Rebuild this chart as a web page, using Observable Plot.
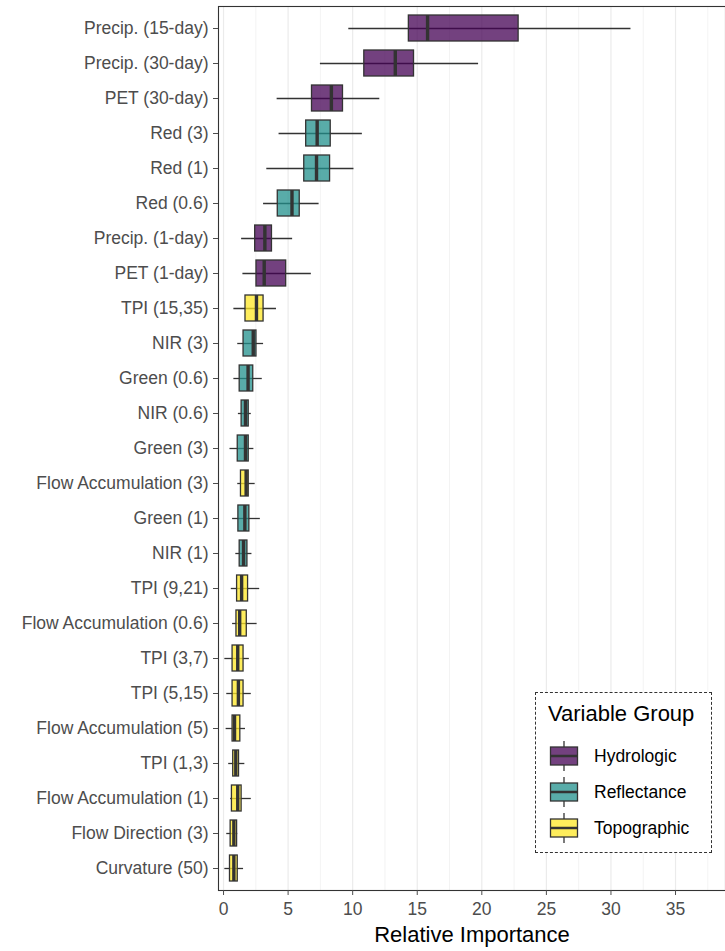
<!DOCTYPE html>
<html>
<head>
<meta charset="utf-8">
<script src="https://cdn.jsdelivr.net/npm/d3@7"></script>
<script src="https://cdn.jsdelivr.net/npm/@observablehq/plot@0.6"></script>
<style>
  html, body { margin: 0; padding: 0; background: #fff; overflow: hidden; }
  #wrap { position: relative; width: 725px; height: 951px; font-family: "Liberation Sans", Arial, sans-serif; }
  #legend { position: absolute; left: 535px; top: 692px; width: 177px; height: 161px; border: 1px dashed #333; background: #fff; box-sizing: border-box; }
  #legend .title { position: absolute; left: 12px; top: 8px; font-size: 22px; color: #000; white-space: nowrap; }
  #legend .item { position: absolute; left: 13px; height: 36px; display: flex; align-items: center; }
  #legend .item span { font-size: 17.5px; color: #000; margin-left: 15px; white-space: nowrap; }
</style>
</head>
<body>
<div id="wrap"></div>
<script>
const names = ["Precip. (15-day)","Precip. (30-day)","PET (30-day)","Red (3)","Red (1)","Red (0.6)","Precip. (1-day)","PET (1-day)","TPI (15,35)","NIR (3)","Green (0.6)","NIR (0.6)","Green (3)","Flow Accumulation (3)","Green (1)","NIR (1)","TPI (9,21)","Flow Accumulation (0.6)","TPI (3,7)","TPI (5,15)","Flow Accumulation (5)","TPI (1,3)","Flow Accumulation (1)","Flow Direction (3)","Curvature (50)"];
const groups = ["Hydrologic","Hydrologic","Hydrologic","Reflectance","Reflectance","Reflectance","Hydrologic","Hydrologic","Topographic","Reflectance","Reflectance","Reflectance","Reflectance","Topographic","Reflectance","Reflectance","Topographic","Topographic","Topographic","Topographic","Topographic","Topographic","Topographic","Topographic","Topographic"];
const whiskerLow  = [9.7, 7.5, 4.15, 4.3, 3.35, 3.1, 1.4, 1.5, 0.8, 1.1, 0.8, 1.15, 0.5, 1.1, 0.7, 0.95, 0.6, 0.7, 0.1, 0.25, 0.2, 0.4, 0.55, 0.25, 0.1];
const q1          = [14.35, 10.9, 6.85, 6.4, 6.25, 4.2, 2.45, 2.55, 1.7, 1.55, 1.25, 1.4, 1.1, 1.35, 1.15, 1.25, 1.05, 1.0, 0.7, 0.7, 0.7, 0.75, 0.65, 0.55, 0.5];
const median      = [15.8, 13.3, 8.35, 7.25, 7.2, 5.3, 3.2, 3.15, 2.55, 2.3, 1.9, 1.7, 1.7, 1.75, 1.65, 1.55, 1.4, 1.25, 1.1, 1.15, 0.85, 0.95, 1.1, 0.8, 0.8];
const q3          = [22.85, 14.75, 9.25, 8.3, 8.25, 5.9, 3.75, 4.85, 3.1, 2.55, 2.3, 1.95, 1.95, 1.95, 2.0, 1.85, 1.9, 1.8, 1.55, 1.55, 1.3, 1.2, 1.4, 1.05, 1.1];
const whiskerHigh = [31.55, 19.75, 12.1, 10.75, 10.1, 7.4, 5.35, 6.8, 4.1, 3.1, 3.0, 2.15, 2.35, 2.45, 2.85, 2.2, 2.8, 2.6, 2.0, 2.15, 1.7, 1.65, 2.15, 1.1, 1.55];
const groupNames = ["Hydrologic","Reflectance","Topographic"];
const groupColors = ["#440154","#21908C","#FDE725"];
const majorTicks = [0,5,10,15,20,25,30,35];
const minorTicks = [2.5,7.5,12.5,17.5,22.5,27.5,32.5,37.5];
const xDomain = [-0.39, 38.87];

const rows = names.map((n,i) => ({name:n, group:groups[i], lo:whiskerLow[i], q1:q1[i], med:median[i], q3:q3[i], hi:whiskerHigh[i]}));
const font = '"Liberation Sans", Arial, sans-serif';

const plot = Plot.plot({
  width: 725,
  height: 951,
  marginLeft: 218,
  marginRight: 0,
  marginTop: 6,
  marginBottom: 61,
  style: {fontFamily: font, background: "#fff", overflow: "visible"},
  x: {domain: xDomain, label: null},
  y: {type: "band", domain: names, paddingInner: 0.25, paddingOuter: 0.225, label: null},
  color: {domain: groupNames, range: groupColors},
  marks: [
    Plot.ruleX(minorTicks, {stroke: "#EBEBEB", strokeWidth: 0.6}),
    Plot.ruleX(majorTicks, {stroke: "#EBEBEB", strokeWidth: 1.2}),
    Plot.ruleY(rows, {y: "name", x1: "lo", x2: "hi", stroke: "#333333", strokeWidth: 1.3}),
    Plot.barX(rows, {y: "name", x1: "q1", x2: "q3", fill: "group", fillOpacity: 0.75, stroke: "#333333", strokeWidth: 1.3}),
    Plot.tickX(rows, {y: "name", x: "med", stroke: "#333333", strokeWidth: 3.4}),
    Plot.frame({stroke: "#333333", strokeWidth: 1.1}),
    Plot.axisY({tickSize: 5, tickPadding: 5, fontSize: 17.5, color: "#4D4D4D", label: null}),
    Plot.axisX(majorTicks, {tickSize: 5, tickPadding: 7, fontSize: 17.5, color: "#4D4D4D", label: null}),
    Plot.text(["Relative Importance"], {frameAnchor: "bottom", dy: 51, fontSize: 22, fill: "#000"})
  ]
});
const wrap = document.getElementById("wrap");
wrap.appendChild(plot);

// legend
const leg = document.createElement("div");
leg.id = "legend";
const t = document.createElement("div");
t.className = "title";
t.textContent = "Variable Group";
leg.appendChild(t);
groupNames.forEach((g, i) => {
  const it = document.createElement("div");
  it.className = "item";
  it.style.top = (45 + i * 36) + "px";
  const svg = d3.create("svg").attr("width", 30).attr("height", 36);
  svg.append("line").attr("x1", 15).attr("x2", 15).attr("y1", 3).attr("y2", 33).attr("stroke", "#333").attr("stroke-width", 1.3);
  svg.append("rect").attr("x", 1.5).attr("y", 9).attr("width", 27).attr("height", 18)
    .attr("fill", "#fff").attr("stroke", "none");
  svg.append("rect").attr("x", 1.5).attr("y", 9).attr("width", 27).attr("height", 18)
    .attr("fill", groupColors[i]).attr("fill-opacity", 0.75).attr("stroke", "#333").attr("stroke-width", 1.3);
  svg.append("line").attr("x1", 1.5).attr("x2", 28.5).attr("y1", 18).attr("y2", 18).attr("stroke", "#333").attr("stroke-width", 2.5);
  it.appendChild(svg.node());
  const s = document.createElement("span");
  s.textContent = g;
  it.appendChild(s);
  leg.appendChild(it);
});
wrap.appendChild(leg);
</script>
</body>
</html>
